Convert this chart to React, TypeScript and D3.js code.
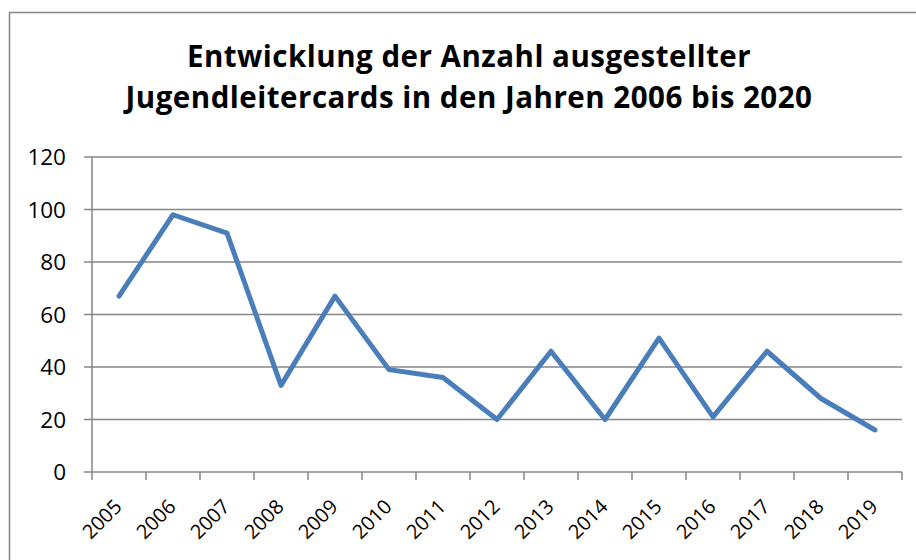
import React from "react";
import * as d3 from "d3";

const years = ["2005", "2006", "2007", "2008", "2009", "2010", "2011", "2012", "2013", "2014", "2015", "2016", "2017", "2018", "2019"];
const counts = [67, 98, 91, 33, 67, 39, 36, 20, 46, 20, 51, 21, 46, 28, 16];
const yTicks = [0, 20, 40, 60, 80, 100, 120];
const titleLines = ["Entwicklung der Anzahl ausgestellter", "Jugendleitercards in den Jahren 2006 bis 2020"];

const W = 916;
const H = 560;
const margin = { left: 92, right: 14, top: 157, bottom: 88 };
const font = "'Open Sans', sans-serif";

export default function App() {
  const x = d3
    .scaleBand()
    .domain(years)
    .range([margin.left, W - margin.right]);
  const y = d3
    .scaleLinear()
    .domain([0, 120])
    .range([H - margin.bottom, margin.top]);

  const line = d3
    .line<number>()
    .x((_, i) => (x(years[i]) as number) + x.bandwidth() / 2)
    .y((d) => y(d));

  const grid = "#868686";
  const x0 = margin.left;
  const x1 = W - margin.right;
  const yBase = y(0);

  return (
    <svg width={W} height={H} style={{ position: "absolute", left: 0, top: 0, background: "#fff" }}>
      {/* chart frame */}
      <rect x={9.5} y={12.5} width={W + 20} height={H + 20} fill="none" stroke={grid} strokeWidth={1.5} />

      {titleLines.map((t, i) => (
        <text
          key={i}
          x={469}
          y={67 + i * 40.5}
          textAnchor="middle"
          fontFamily={font}
          fontWeight="bold"
          fontSize={29.5}
          letterSpacing={0.5}
          fill="#000"
        >
          {t}
        </text>
      ))}

      {/* horizontal gridlines + y ticks */}
      {yTicks.map((t) => (
        <g key={t}>
          <line x1={x0 - 8} x2={x1} y1={y(t)} y2={y(t)} stroke={grid} strokeWidth={1.5} />
          <text
            x={x0 - 26}
            y={y(t)}
            dy="0.36em"
            textAnchor="end"
            fontFamily={font}
            fontSize={22.5}
            fill="#000"
          >
            {t}
          </text>
        </g>
      ))}

      {/* y axis line */}
      <line x1={x0} x2={x0} y1={y(120)} y2={yBase} stroke={grid} strokeWidth={1.5} />

      {/* x ticks */}
      {years.concat(["end"]).map((yr, i) => {
        const px = i < years.length ? (x(yr) as number) : x1;
        return <line key={"t" + i} x1={px} x2={px} y1={yBase} y2={yBase + 8} stroke={grid} strokeWidth={1.5} />;
      })}

      {years.map((yr) => {
        const cx = (x(yr) as number) + x.bandwidth() / 2;
        return (
          <text
            key={yr}
            transform={`translate(${cx + 4},${yBase + 36}) rotate(-45)`}
            textAnchor="end"
            fontFamily={font}
            fontSize={20}
            fill="#000"
          >
            {yr}
          </text>
        );
      })}

      <path
        d={line(counts) || ""}
        fill="none"
        stroke="#4A7EBB"
        strokeWidth={5}
        strokeLinejoin="round"
        strokeLinecap="round"
      />
    </svg>
  );
}
